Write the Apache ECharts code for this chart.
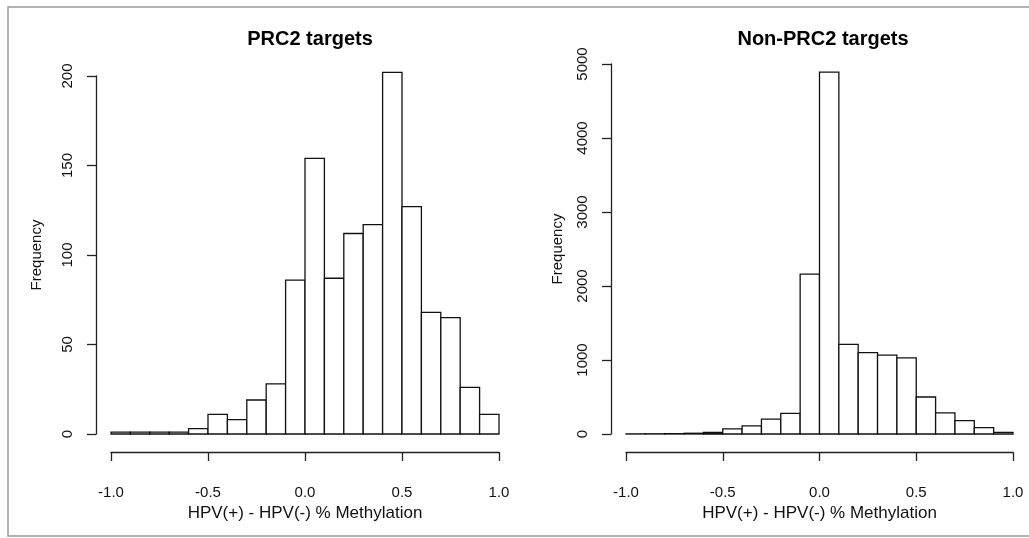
<!DOCTYPE html>
<html>
<head>
<meta charset="utf-8">
<script src="https://cdn.jsdelivr.net/npm/echarts@6/dist/echarts.min.js"></script>
<style>
  html, body { margin: 0; padding: 0; background: #fff; }
  #chart { width: 1029px; height: 538px; }
</style>
</head>
<body>
<div id="chart"></div>
<script>
// bin breaks (same for both panels)
var breaks = [-1.0, -0.9, -0.8, -0.7, -0.6, -0.5, -0.4, -0.3, -0.2, -0.1, 0.0,
              0.1, 0.2, 0.3, 0.4, 0.5, 0.6, 0.7, 0.8, 0.9, 1.0];
// counts
var prc2Counts = [1, 1, 1, 1, 3, 11, 8, 19, 28, 86, 154, 87, 112, 117, 202, 127, 68, 65, 26, 11];
var nonPrc2Counts = [2, 3, 5, 10, 20, 70, 110, 200, 280, 2160, 4890, 1210, 1100, 1065, 1030, 500, 285, 180, 85, 22];

var xTicks = [-1.0, -0.5, 0.0, 0.5, 1.0];
var prc2YTicks = [0, 50, 100, 150, 200];
var nonPrc2YTicks = [0, 1000, 2000, 3000, 4000, 5000];

var titles = ['PRC2 targets', 'Non-PRC2 targets'];
var xName = 'HPV(+) - HPV(-) % Methylation';
var yName = 'Frequency';

var font = 'Liberation Sans, Arial, Helvetica, sans-serif';

function histData(counts) {
    var out = [];
    for (var i = 0; i < counts.length; i++) {
        out.push([breaks[i], breaks[i + 1], counts[i]]);
    }
    return out;
}

function renderBin(params, api) {
    var p0 = api.coord([api.value(0), 0]);
    var p1 = api.coord([api.value(1), api.value(2)]);
    return {
        type: 'rect',
        shape: { x: p0[0], y: p1[1], width: p1[0] - p0[0], height: p0[1] - p1[1] },
        style: { fill: '#fff', stroke: '#111', lineWidth: 1.3 }
    };
}

function xAxisOpt(idx) {
    return {
        gridIndex: idx,
        type: 'value',
        min: xTicks[0],
        max: xTicks[xTicks.length - 1],
        interval: xTicks[1] - xTicks[0],
        offset: 18,
        name: xName,
        nameLocation: 'middle',
        nameGap: 52,
        nameTextStyle: { fontSize: 17, color: '#111', fontFamily: font },
        axisLine: { show: true, onZero: false, lineStyle: { color: '#222', width: 1.3 } },
        axisTick: { show: true, length: 9, inside: false, lineStyle: { color: '#222', width: 1.3 } },
        axisLabel: {
            show: true, margin: 33, fontSize: 15, color: '#111', fontFamily: font,
            showMinLabel: true, showMaxLabel: true,
            formatter: function (v) { return v.toFixed(1); }
        },
        splitLine: { show: false }
    };
}

function yAxisOpt(idx, ticks, gap) {
    return {
        gridIndex: idx,
        type: 'value',
        min: ticks[0],
        max: ticks[ticks.length - 1],
        interval: ticks[1] - ticks[0],
        offset: 15,
        name: yName,
        nameLocation: 'middle',
        nameRotate: 90,
        nameGap: gap,
        nameTextStyle: { fontSize: 15, color: '#111', fontFamily: font },
        axisLine: { show: true, onZero: false, lineStyle: { color: '#222', width: 1.3 } },
        axisTick: { show: true, length: 9, lineStyle: { color: '#222', width: 1.3 } },
        axisLabel: {
            show: true, rotate: 90, margin: 21, fontSize: 15, color: '#111', fontFamily: font,
            showMinLabel: true, showMaxLabel: true,
            formatter: function (v) { return String(v); }
        },
        splitLine: { show: false }
    };
}

var chart = echarts.init(document.getElementById('chart'), null, { renderer: 'canvas' });

var option = {
    animation: false,
    backgroundColor: '#fff',
    title: [
        { text: titles[0], left: 305, top: 24, textAlign: 'center',
          textStyle: { fontSize: 20, fontWeight: 'bold', color: '#000', fontFamily: font } },
        { text: titles[1], left: 818, top: 24, textAlign: 'center',
          textStyle: { fontSize: 20, fontWeight: 'bold', color: '#000', fontFamily: font } }
    ],
    graphic: [
        { type: 'rect', shape: { x: 8, y: 7, width: 1040, height: 529 },
          style: { fill: 'none', stroke: '#999', lineWidth: 1.5 }, silent: true }
    ],
    grid: [
        { left: 111, top: 76, width: 388, height: 358 },
        { left: 626, top: 64, width: 387, height: 370 }
    ],
    xAxis: [xAxisOpt(0), xAxisOpt(1)],
    yAxis: [yAxisOpt(0, prc2YTicks, 52), yAxisOpt(1, nonPrc2YTicks, 46)],
    series: [
        { type: 'custom', xAxisIndex: 0, yAxisIndex: 0, clip: false,
          renderItem: renderBin, encode: { x: [0, 1], y: 2 }, data: histData(prc2Counts) },
        { type: 'custom', xAxisIndex: 1, yAxisIndex: 1, clip: false,
          renderItem: renderBin, encode: { x: [0, 1], y: 2 }, data: histData(nonPrc2Counts) }
    ]
};

chart.setOption(option);
</script>
</body>
</html>
